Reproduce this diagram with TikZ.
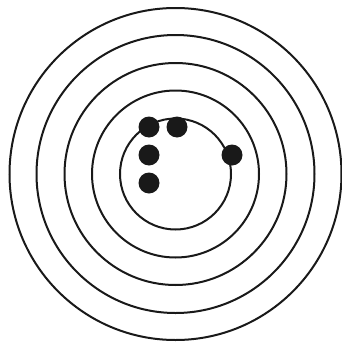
\documentclass[tikz,border=0pt]{standalone}
\begin{document}
\begin{tikzpicture}[x=1pt,y=-1pt,
  ring/.style={draw=black!90,line width=2pt},
  dot/.style={circle,fill=black!90,minimum size=21pt,inner sep=0pt}]
\useasboundingbox (0,0) rectangle (341,343);
\coordinate (c) at (175.5,174);
\foreach \r in {55.5,83.5,111,139,166}
  \draw[ring] (c) circle[radius=\r];
\node[dot] (d1) at (149,127) {};
\node[dot] (d2) at (177,127) {};
\node[dot] (d3) at (232,155) {};
\node[dot] (d4) at (149,155) {};
\node[dot] (d5) at (149,183) {};
\end{tikzpicture}
\end{document}
